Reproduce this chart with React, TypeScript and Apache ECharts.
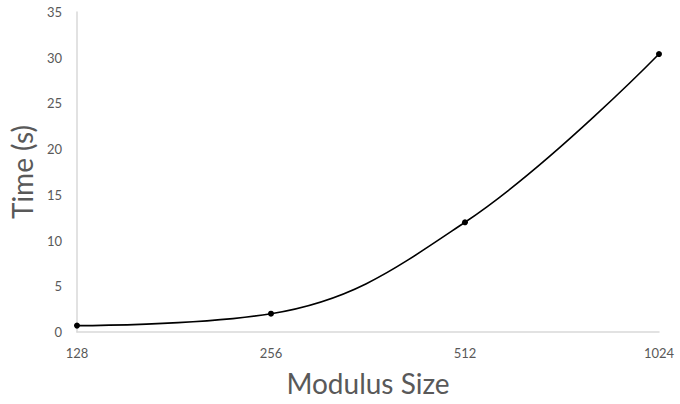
import React, { useEffect, useRef } from "react";
import * as echarts from "echarts";

const modulusSizes = ["128", "256", "512", "1024"];
const timeSeconds = [0.7, 2.0, 12.0, 30.4];
const yMin = 0;
const yMax = 35;
const yStep = 5;

const FONT = "Lato, 'Open Sans', sans-serif";
const TEXT = "#595959";
const AXIS = "#d9d9d9";

export default function App() {
  const ref = useRef<HTMLDivElement>(null);

  useEffect(() => {
    if (!ref.current) return;
    const chart = echarts.init(ref.current, undefined, { renderer: "svg" });
    chart.setOption({
      animation: false,
      backgroundColor: "#ffffff",
      grid: {
        left: 77,
        right: 21,
        top: 12,
        bottom: 72,
        containLabel: false,
        outerBoundsMode: "none",
      },
      xAxis: {
        type: "category",
        data: modulusSizes,
        boundaryGap: false,
        name: "Modulus Size",
        nameLocation: "middle",
        nameGap: 37,
        nameTextStyle: { fontFamily: FONT, fontSize: 28, color: TEXT },
        axisLine: { show: true, lineStyle: { color: AXIS, width: 1.5 } },
        axisTick: { show: false },
        axisLabel: { fontFamily: FONT, fontSize: 13, color: TEXT, margin: 14 },
        splitLine: { show: false },
      },
      yAxis: {
        type: "value",
        min: yMin,
        max: yMax,
        interval: yStep,
        name: "Time (s)",
        nameLocation: "middle",
        nameGap: 32,
        nameRotate: 90,
        nameTextStyle: { fontFamily: FONT, fontSize: 28, color: TEXT },
        axisLine: { show: true, lineStyle: { color: AXIS, width: 1.5 } },
        axisTick: { show: false },
        axisLabel: { fontFamily: FONT, fontSize: 13, color: TEXT, margin: 15 },
        splitLine: { show: false },
      },
      series: [
        {
          type: "line",
          data: timeSeconds,
          smooth: 0.4,
          symbol: "circle",
          symbolSize: 6,
          lineStyle: { color: "#000000", width: 1.6 },
          itemStyle: { color: "#000000" },
        },
      ],
    });
    return () => chart.dispose();
  }, []);

  return (
    <div
      ref={ref}
      style={{ position: "fixed", left: 0, top: 0, width: 680, height: 404 }}
    />
  );
}
